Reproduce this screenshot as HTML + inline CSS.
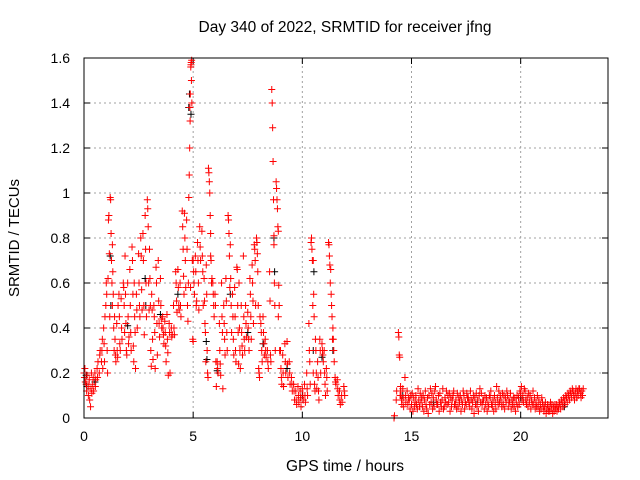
<!DOCTYPE html>
<html><head><meta charset="utf-8"><style>
body{margin:0;background:#fff;}
svg{display:block;font-family:"Liberation Sans",sans-serif;}
</style></head><body>
<svg id="chart" width="640" height="480" viewBox="0 0 640 480">
<rect x="0" y="0" width="640" height="480" fill="#fff"/>
<text x="345" y="32" font-size="15.5" text-anchor="middle" fill="#000">Day 340 of 2022, SRMTID for receiver jfng</text>
<text x="345" y="471" font-size="15.5" text-anchor="middle" fill="#000">GPS time / hours</text>
<text transform="translate(19,238) rotate(-90)" font-size="15" text-anchor="middle" fill="#000">SRMTID / TECUs</text>
<g id="grid"></g>
<g id="ticks"></g>
<g id="black"></g>
<g id="red"></g>
<rect x="84" y="58" width="524" height="360" fill="none" stroke="#000" stroke-width="1"/>
</svg>
<script>
const xTicks=[0,5,10,15,20];
const yTicks=[0,0.2,0.4,0.6,0.8,1,1.2,1.4,1.6];
const yTickLabels=["0","0.2","0.4","0.6","0.8","1","1.2","1.4","1.6"];
const redHours=[0,0.1,0.2,0.3,0.4,0.5,0.6,0.7,0.8,0.9,1.0,1.1,1.2,1.3,1.4,1.5,1.6,1.7,1.8,1.9,2.0,2.1,2.2,2.3,2.4,2.5,2.6,2.7,2.8,2.9,3.0,3.1,3.2,3.3,3.4,3.5,3.6,3.7,3.8,3.9,4.0,4.1,4.2,4.3,4.4,4.5,4.6,4.7,4.8,4.85,4.9,5.0,5.1,5.2,5.3,5.4,5.5,5.6,5.7,5.8,5.9,6.0,6.1,6.2,6.3,6.4,6.5,6.6,6.7,6.8,6.9,7.0,7.1,7.2,7.3,7.4,7.5,7.6,7.7,7.8,7.9,8.0,8.1,8.2,8.3,8.4,8.5,8.6,8.7,8.8,8.9,9.0,9.1,9.2,9.3,9.4,9.5,9.6,9.7,9.8,9.9,10.0,10.1,10.2,10.3,10.4,10.5,10.6,10.7,10.8,10.9,11.0,11.1,11.2,11.3,11.4,11.5,11.6,11.7,11.8,11.9,14.2,14.3,14.4,14.5,14.6,14.7];
const redValues=[[0.2,0.18,0.22,0.16],[0.15,0.12,0.19],[0.1,0.14,0.17,0.08],[0.05,0.13,0.2,0.11],[0.15,0.18,0.12],[0.2,0.14,0.17],[0.22,0.18,0.25],[0.2,0.28,0.3],[0.25,0.3,0.35,0.22],[0.4,0.33,0.25,0.45],[0.5,0.6,0.55,0.3,0.2],[0.62,0.88,0.9,0.73,0.45],[0.98,0.97,0.82,0.7,0.6,0.5],[0.77,0.65,0.55,0.4,0.3],[0.45,0.35,0.28,0.25],[0.42,0.3,0.27,0.5],[0.55,0.45,0.33,0.3],[0.53,0.4,0.35],[0.6,0.58,0.5,0.38,0.72],[0.55,0.42,0.3,0.28],[0.6,0.45,0.33,0.36],[0.66,0.5,0.38,0.3],[0.76,0.7,0.55,0.32,0.25],[0.6,0.45,0.38,0.22],[0.55,0.48,0.4],[0.73,0.6,0.5,0.45],[0.8,0.72,0.57,0.48],[0.82,0.7,0.5,0.37],[0.9,0.75,0.6,0.45],[0.97,0.93,0.85,0.6,0.48],[0.75,0.62,0.5,0.3,0.23],[0.55,0.48,0.35,0.26],[0.5,0.45,0.38,0.22],[0.67,0.6,0.42,0.28],[0.7,0.52,0.42,0.36],[0.62,0.5,0.44,0.4],[0.45,0.4,0.37,0.33],[0.43,0.38,0.32,0.25],[0.46,0.35,0.29,0.19],[0.42,0.38,0.2],[0.4,0.36,0.37],[0.5,0.4,0.37],[0.65,0.6,0.52,0.47],[0.66,0.58,0.5,0.48],[0.6,0.5,0.45],[0.92,0.85,0.75,0.63,0.55],[0.91,0.8,0.7,0.58],[0.88,0.75,0.5,0.43,0.6],[0.98,1.08,1.2,1.32,0.58],[1.38,1.44,1.56,1.58,1.59],[1.57,1.5,1.4,0.7,0.35,0.34],[0.7,0.65,0.6,0.55],[0.72,0.65,0.5,0.52],[0.78,0.7,0.6,0.48],[0.85,0.76,0.7],[0.83,0.72,0.65,0.5],[0.62,0.52,0.42,0.38,0.25],[0.68,0.55,0.3,0.2,0.18],[1.11,1.09,1.05,1.0,0.9,0.72],[0.82,0.7,0.6,0.62],[0.6,0.55,0.5,0.45],[0.55,0.5,0.25,0.14],[0.25,0.22,0.2],[0.42,0.3,0.24,0.19],[0.6,0.45,0.38,0.13],[0.5,0.42,0.35,0.28],[0.62,0.52,0.38,0.3],[0.9,0.88,0.82,0.72,0.58],[0.77,0.62,0.5,0.38],[0.55,0.45,0.35,0.28],[0.58,0.45,0.3,0.25],[0.67,0.66,0.5,0.38,0.24],[0.6,0.4,0.3,0.22],[0.5,0.38,0.32,0.28],[0.72,0.45,0.35,0.3],[0.5,0.42,0.36],[0.47,0.4,0.35,0.3],[0.62,0.55,0.45,0.35],[0.68,0.6,0.52,0.42],[0.77,0.75,0.7,0.5],[0.8,0.78,0.73,0.65,0.5],[0.22,0.2,0.18,0.45],[0.42,0.38,0.3,0.25],[0.45,0.38,0.33,0.28],[0.35,0.3,0.27],[0.3,0.25,0.22],[0.65,0.52,0.28,0.25],[1.46,1.4,1.29,1.14,0.97,0.81],[0.77,0.6,0.5,0.3],[1.05,1.02,0.97,0.93,0.85,0.45],[0.83,0.59,0.5,0.3],[0.3,0.22,0.18,0.15],[0.28,0.2,0.14],[0.33,0.25,0.2],[0.34,0.24,0.18],[0.25,0.2,0.15],[0.18,0.15,0.12],[0.15,0.12,0.08],[0.12,0.08,0.06],[0.14,0.1,0.07],[0.12,0.09,0.05],[0.13,0.1,0.08],[0.15,0.1,0.07],[0.2,0.13,0.1],[0.42,0.3,0.25,0.15],[0.78,0.8,0.75,0.7,0.5,0.2],[0.7,0.55,0.45,0.15,0.12],[0.35,0.3,0.2,0.13],[0.25,0.18,0.12,0.08],[0.35,0.3,0.2],[0.33,0.3,0.28,0.25],[0.3,0.2,0.15,0.1],[0.22,0.18,0.12],[0.78,0.77,0.72,0.68,0.6],[0.66,0.55,0.5,0.45,0.35],[0.4,0.35,0.3,0.25],[0.18,0.16,0.15],[0.17,0.13,0.1],[0.12,0.08,0.06],[0.1,0.07],[0.14,0.12,0.1],[0.0,0.01],[0.08,0.12],[0.38,0.36,0.28,0.27,0.1,0.12],[0.14,0.1,0.08,0.06],[0.13,0.09,0.05],[0.18,0.1,0.07]];
const quietStart=14.8;
const quietValues=[[0.12,0.06,0.09],[0.08,0.04,0.1],[0.06,0.11,0.03],[0.09,0.05,0.07],[0.1,0.06,0.04],[0.13,0.08,0.05],[0.11,0.07,0.09],[0.05,0.1,0.03],[0.08,0.12,0.06],[0.04,0.09,0.02],
[0.1,0.06,0.13],[0.07,0.11,0.04],[0.09,0.05,0.12],[0.14,0.08,0.06],[0.06,0.1,0.03],[0.11,0.07,0.05],[0.08,0.13,0.04],[0.05,0.09,0.07],[0.12,0.06,0.1],[0.07,0.11,0.03],
[0.09,0.05,0.08],[0.1,0.12,0.06],[0.06,0.08,0.04],[0.11,0.05,0.09],[0.07,0.1,0.03],[0.08,0.06,0.12],[0.1,0.04,0.07],[0.06,0.11,0.09],[0.09,0.07,0.05],[0.12,0.08,0.04],
[0.07,0.1,0.02],[0.09,0.06,0.11],[0.05,0.08,0.03],[0.1,0.13,0.07],[0.11,0.06,0.08],[0.08,0.04,0.1],[0.06,0.09,0.03],[0.07,0.05,0.1],[0.09,0.12,0.06],[0.05,0.08,0.03],
[0.1,0.07,0.04],[0.14,0.09,0.06],[0.12,0.07,0.1],[0.08,0.05,0.11],[0.06,0.1,0.04],[0.09,0.07,0.12],[0.1,0.05,0.08],[0.07,0.11,0.04],[0.08,0.06,0.09],[0.05,0.09,0.03],
[0.07,0.1,0.05],[0.09,0.06,0.12],[0.11,0.14,0.08],[0.1,0.07,0.13],[0.12,0.08,0.06],[0.09,0.05,0.11],[0.07,0.1,0.04],[0.08,0.06,0.12],[0.06,0.09,0.04],[0.07,0.05,0.1],
[0.05,0.08,0.03],[0.06,0.04,0.09],[0.07,0.05,0.03],[0.05,0.07,0.02],[0.04,0.06,0.03],[0.05,0.03,0.07],[0.04,0.06,0.02],[0.05,0.03,0.06],[0.04,0.06,0.03],[0.05,0.04,0.07],
[0.06,0.04,0.08],[0.07,0.05,0.09],[0.08,0.06,0.1],[0.09,0.07,0.11],[0.1,0.08,0.12],[0.11,0.09,0.13],[0.12,0.1,0.08],[0.11,0.13,0.09],[0.12,0.1,0.13],[0.13,0.11,0.09],[0.12,0.1,0.13]];
const blackHours=[0.1,0.5,1.2,2.0,2.8,3.5,4.3,4.8,4.9,5.6,6.1,6.7,7.5,8.2,8.7,9.3,10.0,10.5,10.9,11.4,14.6,16.0,18.0,20.0,22.0];
const blackValues=[[0.19,0.14],[0.16],[0.72,0.5],[0.41],[0.62,0.5],[0.46],[0.55],[1.38,1.44],[1.35],[0.34,0.26],[0.21],[0.55],[0.38],[0.33],[0.8,0.65],[0.22],[0.1],[0.3,0.65],[0.27],[0.3],[0.1],[0.07],[0.06],[0.09],[0.05]];

const NS="http://www.w3.org/2000/svg";
const X0=84,X1=608,Y0=418,Y1=58,XMAX=24,YMAX=1.6;
function xs(h){return X0+(X1-X0)*h/XMAX;}
function ys(v){return Y0-(Y0-Y1)*v/YMAX;}
const grid=document.getElementById('grid'),ticks=document.getElementById('ticks');
function mk(tag,attrs,parent){const e=document.createElementNS(NS,tag);for(const k in attrs)e.setAttribute(k,attrs[k]);parent.appendChild(e);return e;}
xTicks.forEach((t,i)=>{
  const x=xs(t);
  if(t>0){const g=mk('line',{x1:x,y1:Y0,x2:x,y2:Y1,stroke:'#a0a0a0','stroke-dasharray':'2,3'},grid);
  
  }
  mk('line',{x1:x,y1:Y0,x2:x,y2:Y0-6,stroke:'#000'},ticks);
  mk('line',{x1:x,y1:Y1,x2:x,y2:Y1+6,stroke:'#000'},ticks);
  const tx=mk('text',{x:x,y:Y0+23,'font-size':'14','text-anchor':'middle',fill:'#000'},ticks);
  tx.textContent=String(t);
  
  
});
yTicks.forEach((t,i)=>{
  const y=ys(t);
  if(t>0&&t<YMAX){const g=mk('line',{x1:X0,y1:y,x2:X1,y2:y,stroke:'#a0a0a0','stroke-dasharray':'2,3'},grid);
  
  }
  mk('line',{x1:X0,y1:y,x2:X0+6,y2:y,stroke:'#000'},ticks);
  mk('line',{x1:X1,y1:y,x2:X1-6,y2:y,stroke:'#000'},ticks);
  const tx=mk('text',{x:X0-14,y:y+5,'font-size':'14','text-anchor':'end',fill:'#000'},ticks);
  tx.textContent=yTickLabels[i];
  
  
});
function plus(h,v,color,parent){
  const x=xs(h),y=ys(v);
  const p=mk('path',{d:`M${x-3.5},${y}H${x+3.5}M${x},${y-3.5}V${y+3.5}`,stroke:color,'stroke-width':'1',fill:'none'},parent);
  
  
}
const bg=document.getElementById('black'),rg=document.getElementById('red');
blackHours.forEach((h,i)=>blackValues[i].forEach((v,j)=>plus(h+0.03*j,v,'#000',bg)));
redHours.forEach((h,i)=>redValues[i].forEach((v,j)=>plus(h+0.02*j,v,'#ff0000',rg)));
quietValues.forEach((arr,i)=>arr.forEach((v,j)=>plus(quietStart+0.1*i+0.033*j,v,'#ff0000',rg)));
</script>
</body></html>
